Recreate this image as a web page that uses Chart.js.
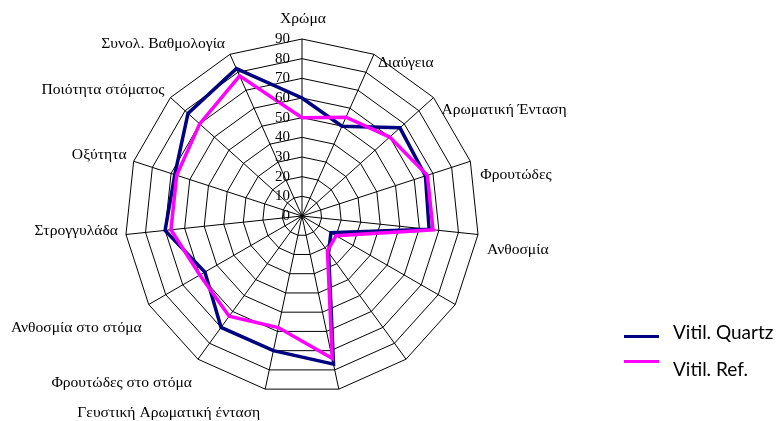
<!DOCTYPE html>
<html><head><meta charset="utf-8">
<script src="https://cdn.jsdelivr.net/npm/chart.js@4.4.1/dist/chart.umd.min.js"></script>
<style>
html,body{margin:0;padding:0;background:#fff;}
#wrap{position:relative;width:776px;height:421px;overflow:hidden;background:#fff;}
canvas{position:absolute;left:0;top:0;}
.lg{position:absolute;font-family:Lato,'Open Sans',sans-serif;font-size:19px;color:#000;white-space:nowrap;line-height:1;}
.mk{position:absolute;height:3px;width:35px;}
</style></head><body>
<div id="wrap"><canvas id="c" width="776" height="421"></canvas></div>
<script>
// ---- data ----
const categories = ['Χρώμα','Διαύγεια','Αρωματική Ένταση','Φρουτώδες','Ανθοσμία','','','',
  'Γευστική Αρωματική ένταση','Φρουτώδες στο στόμα','Ανθοσμία στο στόμα','Στρογγυλάδα',
  'Οξύτητα','Ποιότητα στόματος','Συνολ. Βαθμολογία'];
const seriesNames = ['Vitil. Quartz','Vitil. Ref.'];
const quartzValues = [60, 50, 67, 66, 65, 17, 23, 77, 70, 70, 57, 70, 68, 78, 82];
const refValues    = [50, 55, 60, 67, 67, 20, 22, 74, 58, 63, 60, 67, 67, 70, 78];
const tickValues = [0, 10, 20, 30, 40, 50, 60, 70, 80, 90];

// ---- styling ----
const seriesColors = ['#000080', '#ff00ff'];
const labelNudge = [[1,-20,'center'],[4,9,'left'],[8,12,'left'],[10,14,'left'],[9,15,'left'],
  [0,0,'left'],[0,0,'left'],[0,0,'center'],[-5,24,'right'],[-6,24,'right'],[-7,23,'right'],
  [-8,-4,'right'],[-7,-6,'right'],[-6,-8,'right'],[-5,-10,'right']];

const customText = {
  id: 'customText',
  afterDraw(chart) {
    const s = chart.scales.r, ctx = chart.ctx;
    ctx.save();
    ctx.fillStyle = '#000';
    ctx.font = '15.6px "Liberation Serif", "Times New Roman", serif';
    ctx.textBaseline = 'middle';
    chart.data.labels.forEach((lab, i) => {
      if (!lab) return;
      const p = s.getPointPosition(i, s.drawingArea);
      const n = labelNudge[i];
      ctx.textAlign = n[2];
      ctx.fillText(lab, p.x + n[0], p.y + n[1]);
    });
    ctx.font = '15px "Liberation Serif", "Times New Roman", serif';
    ctx.textAlign = 'right';
    tickValues.forEach(v => {
      const d = s.getDistanceFromCenterForValue(v);
      ctx.fillText(String(v), s.xCenter - 12, s.yCenter - d);
    });
    ctx.restore();
  }
};

new Chart(document.getElementById('c'), {
  type: 'radar',
  data: {
    labels: categories,
    datasets: [
      {label: seriesNames[0], data: quartzValues, borderColor: seriesColors[0], backgroundColor: seriesColors[0],
       borderWidth: 3.5, pointRadius: 0, fill: false, tension: 0, order: 2},
      {label: seriesNames[1], data: refValues, borderColor: seriesColors[1], backgroundColor: seriesColors[1],
       borderWidth: 3.5, pointRadius: 0, fill: false, tension: 0, order: 1}
    ]
  },
  options: {
    responsive: false,
    animation: false,
    layout: {padding: {left: 124, right: 296, top: 39, bottom: 27}},
    plugins: {legend: {display: false}, tooltip: {enabled: false}},
    elements: {line: {borderJoinStyle: 'miter'}},
    scales: {
      r: {
        min: 0, max: 90,
        ticks: {display: false, stepSize: 10},
        pointLabels: {display: false},
        grid: {color: '#000', lineWidth: 1, circular: false},
        angleLines: {color: '#000', lineWidth: 1}
      }
    }
  },
  plugins: [customText]
});

// legend (HTML text)
const wrap = document.getElementById('wrap');
const mkTop = [335, 360], txtTop = [322, 359];
seriesNames.forEach((nm, i) => {
  const m = document.createElement('div');
  m.className = 'mk'; m.style.left = '624px'; m.style.top = mkTop[i] + 'px';
  m.style.background = seriesColors[i];
  wrap.appendChild(m);
  const t = document.createElement('div');
  t.className = 'lg'; t.style.left = '673px'; t.style.top = txtTop[i] + 'px';
  t.textContent = nm;
  wrap.appendChild(t);
});
</script>
</body></html>
